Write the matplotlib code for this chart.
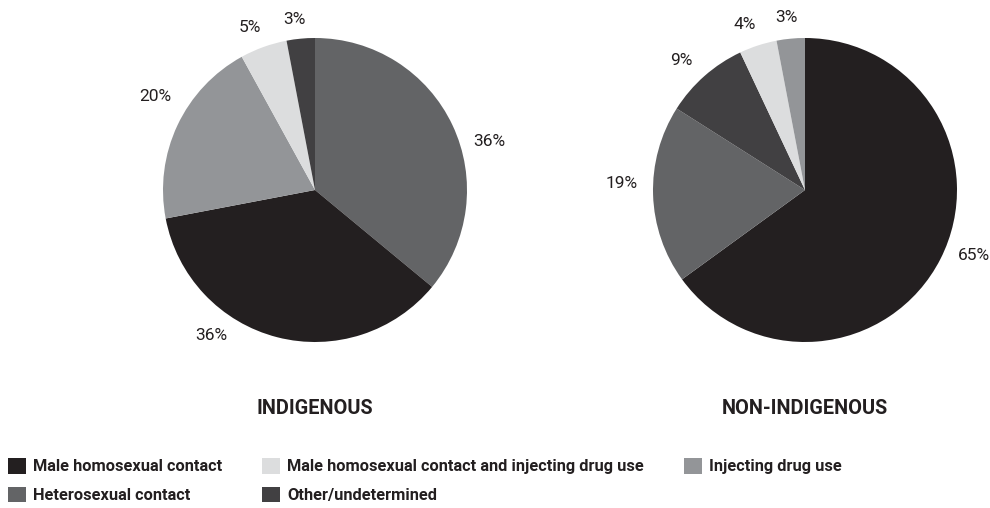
import matplotlib
matplotlib.use("Agg")
import matplotlib.pyplot as plt
from matplotlib.patches import Patch

plt.rcParams["font.family"] = ["Roboto", "DejaVu Sans"]

# data
categories = ["Male homosexual contact", "Heterosexual contact",
              "Male homosexual contact and injecting drug use",
              "Other/undetermined", "Injecting drug use"]
colors = {"Male homosexual contact": "#231f20",
          "Heterosexual contact": "#636466",
          "Male homosexual contact and injecting drug use": "#dcddde",
          "Other/undetermined": "#414042",
          "Injecting drug use": "#939598"}

indig_cats = ["Heterosexual contact", "Male homosexual contact", "Injecting drug use",
              "Male homosexual contact and injecting drug use", "Other/undetermined"]
indig_vals = [36, 36, 20, 5, 3]

nonindig_cats = ["Male homosexual contact", "Heterosexual contact", "Other/undetermined",
                 "Male homosexual contact and injecting drug use", "Injecting drug use"]
nonindig_vals = [65, 19, 9, 4, 3]

# label spots, in pie-radius units from the centre
indig_lbl = [(1.145, 0.316), (-0.684, -0.954), (-1.053, 0.612), (-0.428, 1.072), (-0.138, 1.125)]
nonindig_lbl = [(1.112, -0.428), (-1.204, 0.046), (-0.816, 0.849), (-0.395, 1.086), (-0.125, 1.132)]

W, H = 990, 508
fig = plt.figure(figsize=(W / 100, H / 100), dpi=100)

def draw_pie(cx, cy, r, cats, vals, lbls, title):
    ax = fig.add_axes([(cx - r) / W, (H - cy - r) / H, 2 * r / W, 2 * r / H])
    ax.pie(vals, colors=[colors[c] for c in cats], startangle=90, counterclock=False,
           wedgeprops=dict(linewidth=0))
    ax.set_xlim(-1, 1); ax.set_ylim(-1, 1)
    ax.set_aspect("equal")
    ax.axis("off")
    for v, (lx, ly) in zip(vals, lbls):
        ax.text(lx, ly, f"{v}%", ha="center", va="center", fontsize=12.5,
                color="#231f20", clip_on=False)
    fig.text(cx / W, 1 - 408 / H, title, ha="center", va="center",
             fontsize=14.3, fontweight="bold", color="#231f20")

draw_pie(315, 190, 152, indig_cats, indig_vals, indig_lbl, "INDIGENOUS")
draw_pie(805, 190, 152, nonindig_cats, nonindig_vals, nonindig_lbl, "NON-INDIGENOUS")

handles = [Patch(facecolor=colors[c], edgecolor="none", label=c) for c in categories]
fig.legend(handles=handles, loc="upper left", bbox_to_anchor=(8 / W, 1 - 458 / H),
           ncol=3, frameon=False, borderpad=0, borderaxespad=0,
           handlelength=1.1, handleheight=1.1, handletextpad=0.4,
           labelspacing=0.75, columnspacing=2.47,
           prop=dict(weight="bold", size=11.8),
           labelcolor="#231f20")

fig.savefig("out.png", dpi=100)
